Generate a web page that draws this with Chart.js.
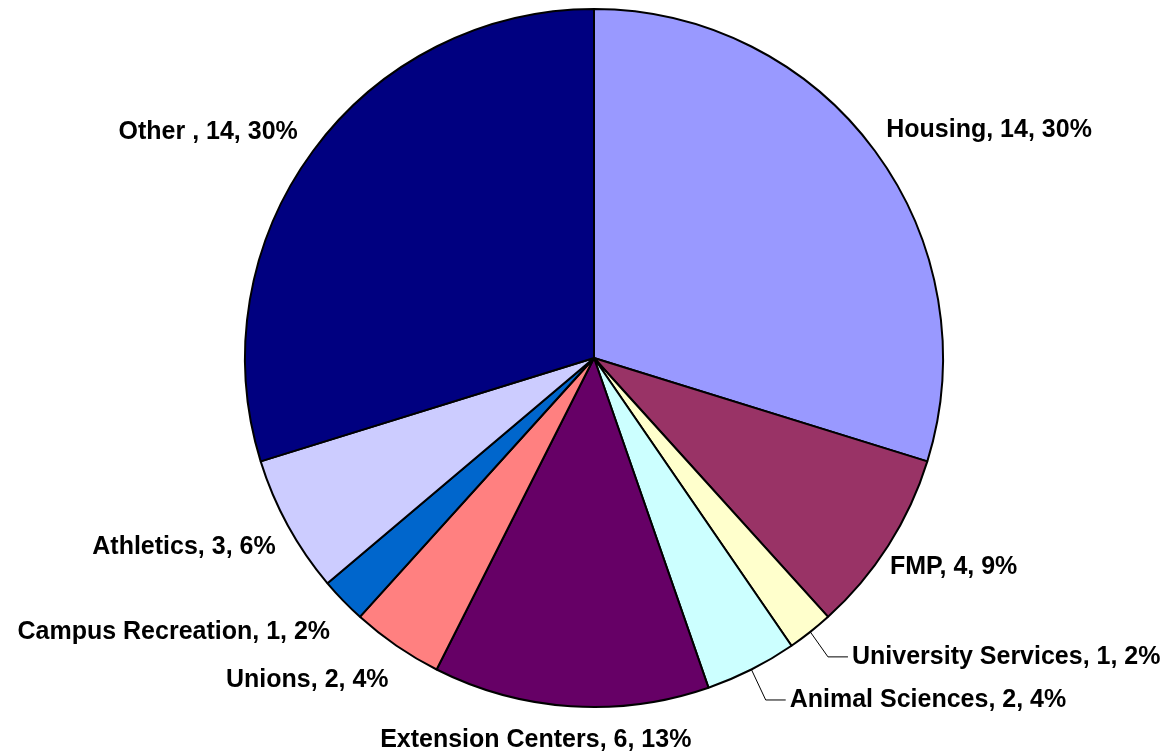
<!DOCTYPE html>
<html>
<head>
<meta charset="utf-8">
<script src="https://cdn.jsdelivr.net/npm/chart.js@4/dist/chart.umd.min.js"></script>
<style>
  html, body { margin: 0; padding: 0; background: #ffffff; }
  #wrap { width: 1171px; height: 753px; }
</style>
</head>
<body>
<div id="wrap"><canvas id="pie-chart"></canvas></div>
<script>
// Data (clockwise from 12 o'clock)
const categories = [
  'Housing',
  'FMP',
  'University Services',
  'Animal Sciences',
  'Extension Centers',
  'Unions',
  'Campus Recreation',
  'Athletics',
  'Other ',
];
const counts = [14, 4, 1, 2, 6, 2, 1, 3, 14];

const sliceColors = [
  '#9999ff',
  '#993366',
  '#ffffcc',
  '#ccffff',
  '#660066',
  '#ff8080',
  '#0066cc',
  '#ccccff',
  '#000080',
];

// Label placement tweaks (pixels), plus which labels get a leader line
const labelNudge = [
  [0, 2],
  [-10, -1],
  [33, -1],
  [32, 3],
  [-34, 5],
  [0, 8],
  [-3, 7],
  [0, 0],
  [-4, 4],
];
const leaderLabels = [2, 3];

const LABEL_FONT = 'bold 25px "Liberation Sans", Arial, sans-serif';
const LABEL_GAP = 14;
const LABEL_HALF_HEIGHT = 15;

const sliceLabels = {
  id: 'sliceLabels',
  afterDraw(chart) {
    const meta = chart.getDatasetMeta(0);
    const values = chart.data.datasets[0].data;
    const total = values.reduce((a, b) => a + b, 0);
    const ctx = chart.ctx;
    ctx.save();
    ctx.font = LABEL_FONT;
    ctx.fillStyle = '#000000';
    ctx.textBaseline = 'middle';

    meta.data.forEach((arc, i) => {
      const mid = (arc.startAngle + arc.endAngle) / 2;
      const dx = Math.cos(mid);
      const dy = Math.sin(mid);
      const r = arc.outerRadius;
      const ax = arc.x + dx * (r + LABEL_GAP);
      const ay = arc.y + dy * (r + LABEL_GAP);

      let align = 'center';
      if (dx > 0.3) align = 'left';
      else if (dx < -0.3) align = 'right';

      const x = ax + labelNudge[i][0];
      const y = (dy >= 0 ? ay + LABEL_HALF_HEIGHT : ay - LABEL_HALF_HEIGHT) + labelNudge[i][1];

      const pct = Math.round((values[i] / total) * 100);
      const text = `${chart.data.labels[i]}, ${values[i]}, ${pct}%`;

      if (leaderLabels.includes(i)) {
        // Leader line: slice edge -> elbow -> label
        ctx.beginPath();
        ctx.strokeStyle = '#000000';
        ctx.lineWidth = 1;
        ctx.moveTo(arc.x + dx * r, arc.y + dy * r);
        ctx.lineTo(x - 24, y);
        ctx.lineTo(x - 4, y);
        ctx.stroke();
      }

      ctx.textAlign = align;
      ctx.fillText(text, x, y);
    });
    ctx.restore();
  },
};

new Chart(document.getElementById('pie-chart'), {
  type: 'pie',
  data: {
    labels: categories,
    datasets: [
      {
        data: counts,
        backgroundColor: sliceColors,
        borderColor: '#000000',
        borderWidth: 2,
      },
    ],
  },
  options: {
    responsive: true,
    maintainAspectRatio: false,
    animation: false,
    layout: {
      padding: { top: 8, bottom: 45, left: 244, right: 227 },
    },
    plugins: {
      legend: { display: false },
      tooltip: { enabled: false },
    },
  },
  plugins: [sliceLabels],
});
</script>
</body>
</html>
